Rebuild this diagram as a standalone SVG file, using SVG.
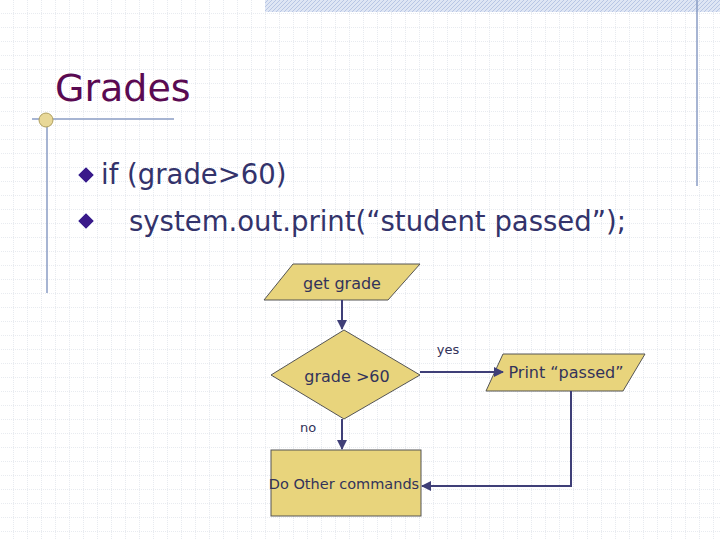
<svg xmlns="http://www.w3.org/2000/svg" width="720" height="540" viewBox="0 0 720 540">
<defs>
<pattern id="grid" width="14" height="14" patternUnits="userSpaceOnUse"><path d="M14 0V14H0" fill="none" stroke="#d0d6e0" stroke-width="1" stroke-dasharray="1,1"/></pattern>
<pattern id="hatch" width="4" height="4" patternUnits="userSpaceOnUse"><rect width="4" height="4" fill="#dfe6f4"/><path d="M0 4L4 0" stroke="#b8c6e4" stroke-width="1"/></pattern>
<marker id="ah" viewBox="0 0 10 10" refX="9" refY="5" markerWidth="5" markerHeight="5" orient="auto"><path d="M0 0L10 5L0 10z" fill="#3f3f78"/></marker>
<style>
.shape{fill:#e8d47c;stroke:#555;stroke-width:1}
.lbl{font-family:"DejaVu Sans",Verdana,sans-serif;fill:#33335a;text-anchor:middle}
.conn{fill:none;stroke:#3f3f78;stroke-width:2;marker-end:url(#ah)}
.body{font-family:"DejaVu Sans",Verdana,sans-serif;font-size:27.5px;fill:#33336b}
</style>
</defs>
<rect width="720" height="540" fill="#fff"/>
<rect width="720" height="540" fill="url(#grid)"/>
<rect x="265" y="0" width="455" height="12" fill="url(#hatch)"/>
<line x1="697" y1="0" x2="697" y2="186" stroke="#8a9cc4" stroke-width="1.5"/>
<line x1="32" y1="119" x2="174" y2="119" stroke="#8a9cc4" stroke-width="1.5"/>
<line x1="47" y1="120" x2="47" y2="293" stroke="#8a9cc4" stroke-width="1.5"/>
<circle cx="46" cy="120" r="7" fill="#e8d898" stroke="#b0a060"/>
<text x="55" y="101" font-family="DejaVu Sans,Verdana,sans-serif" font-size="38" fill="#5a0a52">Grades</text>
<g fill="#3a1a8a" stroke="#c0c0e0" stroke-width="1">
<path d="M86 167L94 175L86 183L78 175z"/>
<path d="M86 213L94 221L86 229L78 221z"/>
</g>
<text x="101" y="184" class="body">if (grade&gt;60)</text>
<text x="129" y="231" class="body">system.out.print(“student passed”);</text>
<g id="get-grade"><path class="shape" d="M293 264H420L388 300H264z"/><text x="342" y="289" class="lbl" font-size="16">get grade</text></g>
<g id="decision"><path class="shape" d="M344 330L420 375L344 419L271 375z"/><text x="347" y="382" class="lbl" font-size="16">grade &gt;60</text></g>
<g id="print"><path class="shape" d="M503 354H645L623 391H486z"/><text x="566" y="378" class="lbl" font-size="16">Print “passed”</text></g>
<g id="other"><rect class="shape" x="271" y="450" width="150" height="66"/><text x="344" y="489" class="lbl" font-size="14.5">Do Other commands</text></g>
<g id="connectors">
<path class="conn" d="M342 300V329"/>
<path class="conn" d="M342 419V449"/>
<path class="conn" d="M420 372H503"/>
<path class="conn" d="M571 391V486H422"/>
<text x="448" y="354" class="lbl" font-size="13">yes</text>
<text x="308" y="432" class="lbl" font-size="13">no</text>
</g>
</svg>
